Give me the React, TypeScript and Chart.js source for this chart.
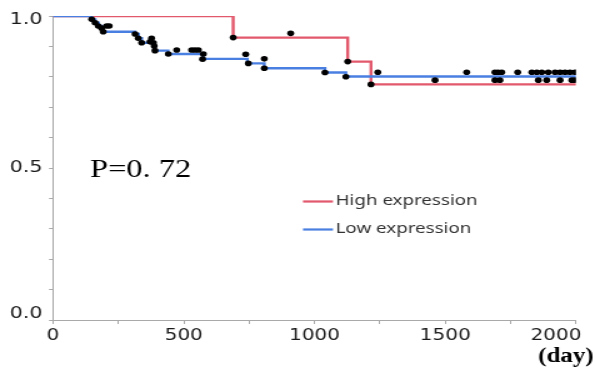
import React, { useEffect, useRef } from "react";
import { Chart, registerables } from "chart.js";

Chart.register(...registerables);

// Kaplan-Meier step points (day, survival)
const lowDays = [0, 148, 161, 174, 186, 192, 314, 327, 339, 382, 390, 440, 573, 743, 808, 1040, 1120, 2000];
const lowSurv = [1.0, 0.989, 0.978, 0.967, 0.96, 0.948, 0.941, 0.927, 0.912, 0.901, 0.886, 0.875, 0.859, 0.844, 0.828, 0.814, 0.801, 0.801];

const highDays = [0, 689, 1127, 1216, 2000];
const highSurv = [1.0, 0.929, 0.85, 0.775, 0.775];

// marks (day, survival)
const markDays = [
  148, 161, 173, 186, 192, 205, 215,
  314, 326, 339, 371, 377, 384, 387, 390,
  441, 473, 530, 543, 556, 575, 572,
  689, 737, 747, 808, 808, 909,
  1040, 1120, 1127, 1216, 1242,
  1582, 1690, 1702, 1716, 1777, 1831, 1850, 1869, 1894, 1920, 1939, 1958, 1977, 1996,
  1461, 1690, 1709, 1856, 1888, 1939, 1984, 1996,
];
const markSurv = [
  0.989, 0.978, 0.967, 0.96, 0.948, 0.967, 0.967,
  0.941, 0.927, 0.912, 0.915, 0.927, 0.912, 0.901, 0.886,
  0.875, 0.888, 0.888, 0.888, 0.888, 0.875, 0.858,
  0.929, 0.874, 0.844, 0.859, 0.828, 0.943,
  0.814, 0.8, 0.85, 0.775, 0.815,
  0.815, 0.815, 0.815, 0.815, 0.815, 0.815, 0.815, 0.815, 0.815, 0.815, 0.815, 0.815, 0.815, 0.815,
  0.789, 0.789, 0.789, 0.789, 0.789, 0.789, 0.789, 0.789,
];

const xTickLabels = ["0", "500", "1000", "1500", "2000"];
const yTickLabels = ["0.0", "0.5", "1.0"];
const seriesNames = ["High expression", "Low expression"];
const pText = "P=0. 72";
const xUnit = "(day)";

const RED = "#e2586c";
const BLUE = "#4a7fe2";
const AXIS = "#a9a9a9";
const TXT = "#1a1a1a";

const W = 476;
const H = 373;
const SX = 1.25;

export default function App() {
  const ref = useRef<HTMLCanvasElement>(null);

  useEffect(() => {
    document.body.style.margin = "0";
    const canvas = ref.current!;
    const overlay = {
      id: "overlay",
      afterDraw(chart: any) {
        const ctx = chart.ctx;
        const xs = chart.scales.x;
        const ys = chart.scales.y;
        ctx.save();
        // y tick labels
        ctx.fillStyle = TXT;
        ctx.font = "16.5px 'DejaVu Sans'";
        ctx.textAlign = "right";
        ctx.textBaseline = "middle";
        const yVals = [0, 0.5, 1];
        const yOff = [-6, 0, 4];
        yVals.forEach((v, i) => {
          ctx.fillText(yTickLabels[i], xs.left - 8.5, ys.getPixelForValue(v) + yOff[i]);
        });
        // last x label shifted left
        ctx.font = "16px 'DejaVu Sans'";
        ctx.textAlign = "center";
        ctx.fillText(
          xTickLabels[4],
          xs.getPixelForValue(2000) - 16,
          xs.top + 4 + 2 + (16 * 1.2) / 2
        );
        // unit
        ctx.font = "bold 20px 'Liberation Serif'";
        ctx.textAlign = "right";
        ctx.textBaseline = "alphabetic";
        ctx.fillStyle = "#000";
        ctx.fillText(xUnit, 475, 362);
        // P value
        ctx.font = "26px 'Liberation Serif'";
        ctx.textAlign = "left";
        ctx.fillText(pText, 72, 177);
        // legend
        ctx.font = "15px 'Noto Sans'";
        ctx.textBaseline = "middle";
        ctx.fillStyle = "#333";
        const items = [
          { c: RED, y: 201.5, t: seriesNames[0] },
          { c: BLUE, y: 229.5, t: seriesNames[1] },
        ];
        items.forEach((it) => {
          ctx.strokeStyle = it.c;
          ctx.lineWidth = 2.2;
          ctx.beginPath();
          ctx.moveTo(242.4, it.y);
          ctx.lineTo(266.4, it.y);
          ctx.stroke();
          ctx.fillText(it.t, 268.5, it.y - 1);
        });
        ctx.restore();
      },
    };

    const chart = new Chart(canvas, {
      type: "scatter",
      data: {
        datasets: [
          {
            label: "marks",
            data: markDays.map((d, i) => ({ x: d, y: markSurv[i] })),
            showLine: false,
            pointRadius: 2.8,
            pointBorderWidth: 0,
            pointBackgroundColor: "#000",
            backgroundColor: "#000",
          },
          {
            label: seriesNames[1],
            data: lowDays.map((d, i) => ({ x: d, y: lowSurv[i] })),
            showLine: true,
            stepped: "before",
            borderColor: BLUE,
            borderWidth: 2.4,
            pointRadius: 0,
            fill: false,
          },
          {
            label: seriesNames[0],
            data: highDays.map((d, i) => ({ x: d, y: highSurv[i] })),
            showLine: true,
            stepped: "before",
            borderColor: RED,
            borderWidth: 2.4,
            pointRadius: 0,
            fill: false,
          },
        ],
      },
      options: {
        responsive: false,
        animation: false,
        devicePixelRatio: 1,
        layout: { padding: { left: 0, right: W - 460.8, top: 16, bottom: 0 } },
        plugins: {
          legend: { display: false },
          tooltip: { enabled: false },
        },
        scales: {
          x: {
            type: "linear",
            min: 0,
            max: 2000,
            afterFit: (s: any) => {
              s.height = H - 320;
            },
            border: { color: AXIS, width: 1 },
            grid: { drawOnChartArea: false, drawTicks: true, tickLength: 4, color: AXIS },
            ticks: {
              stepSize: 250,
              autoSkip: false,
              maxRotation: 0,
              padding: 2,
              color: TXT,
              font: { family: "'DejaVu Sans'", size: 16 },
              callback: (v: any) => {
                const n = Number(v);
                if (n % 500 !== 0 || n === 2000) return "";
                return xTickLabels[n / 500];
              },
            },
          },
          y: {
            min: 0,
            max: 1,
            afterFit: (s: any) => {
              s.width = 42.4;
            },
            border: { color: AXIS, width: 1 },
            grid: { drawOnChartArea: false, drawTicks: true, tickLength: 3.2, color: AXIS },
            ticks: {
              stepSize: 0.1,
              autoSkip: false,
              callback: () => "",
            },
          },
        },
      },
      plugins: [overlay],
    } as any);
    return () => chart.destroy();
  }, []);

  return (
    <div style={{ width: W, height: H, transform: `scaleX(${SX})`, transformOrigin: "0 0" }}>
      <canvas ref={ref} width={W} height={H} style={{ display: "block" }} />
    </div>
  );
}
